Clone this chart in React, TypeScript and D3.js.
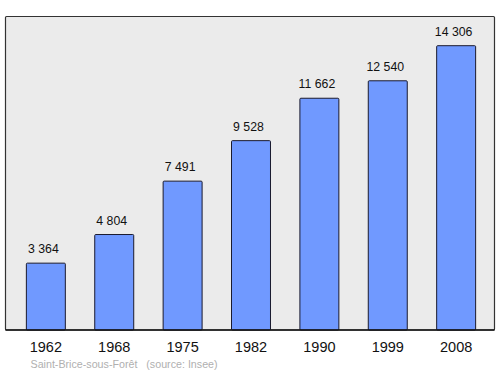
import React from "react";
import * as d3 from "d3";

const years = ["1962", "1968", "1975", "1982", "1990", "1999", "2008"];
const population = [3364, 4804, 7491, 9528, 11662, 12540, 14306];
const valueLabels = ["3 364", "4 804", "7 491", "9 528", "11 662", "12 540", "14 306"];
const caption = "Saint-Brice-sous-Forêt   (source: Insee)";

export default function App() {
  const W = 500, H = 374;
  const frame = { x0: 5.5, y0: 16.5, x1: 494.5, y1: 330 };
  const x = d3.scaleBand<string>().domain(years).range([12, 490]).paddingInner(0.43).paddingOuter(0.21);
  const y = d3.scaleLinear().domain([0, 14306]).range([330, 45.7]);
  const font = "'Liberation Sans', Arial, sans-serif";
  return (
    <svg width={W} height={H} style={{ position: "absolute", left: 0, top: 0 }}>
      <rect x={frame.x0} y={frame.y0} width={frame.x1 - frame.x0} height={frame.y1 - frame.y0}
        fill="#ebebeb" stroke="#333" strokeWidth={1.2} rx={1} />
      {population.map((v, i) => {
        const bx = x(years[i])!;
        return (
          <g key={years[i]}>
            <rect x={bx} y={y(v)} width={x.bandwidth()} height={330 - y(v)}
              fill="#7099ff" stroke="#1a1a2e" strokeWidth={1} rx={1} />
            <text x={bx + x.bandwidth() / 2 - 2.5} y={y(v) - 10} textAnchor="middle"
              fontFamily={font} fontSize={12.3} fill="#111">{valueLabels[i]}</text>
            <text x={bx + x.bandwidth() / 2} y={352} textAnchor="middle"
              fontFamily={font} fontSize={14.5} fill="#111">{years[i]}</text>
          </g>
        );
      })}
      <line x1={frame.x0} x2={frame.x1} y1={330} y2={330} stroke="#111" strokeWidth={1.5} />
      <text x={30.5} y={368} fontFamily={font} fontSize={10.7} fill="#b0b0b0" style={{ whiteSpace: "pre" }}>{caption}</text>
    </svg>
  );
}
